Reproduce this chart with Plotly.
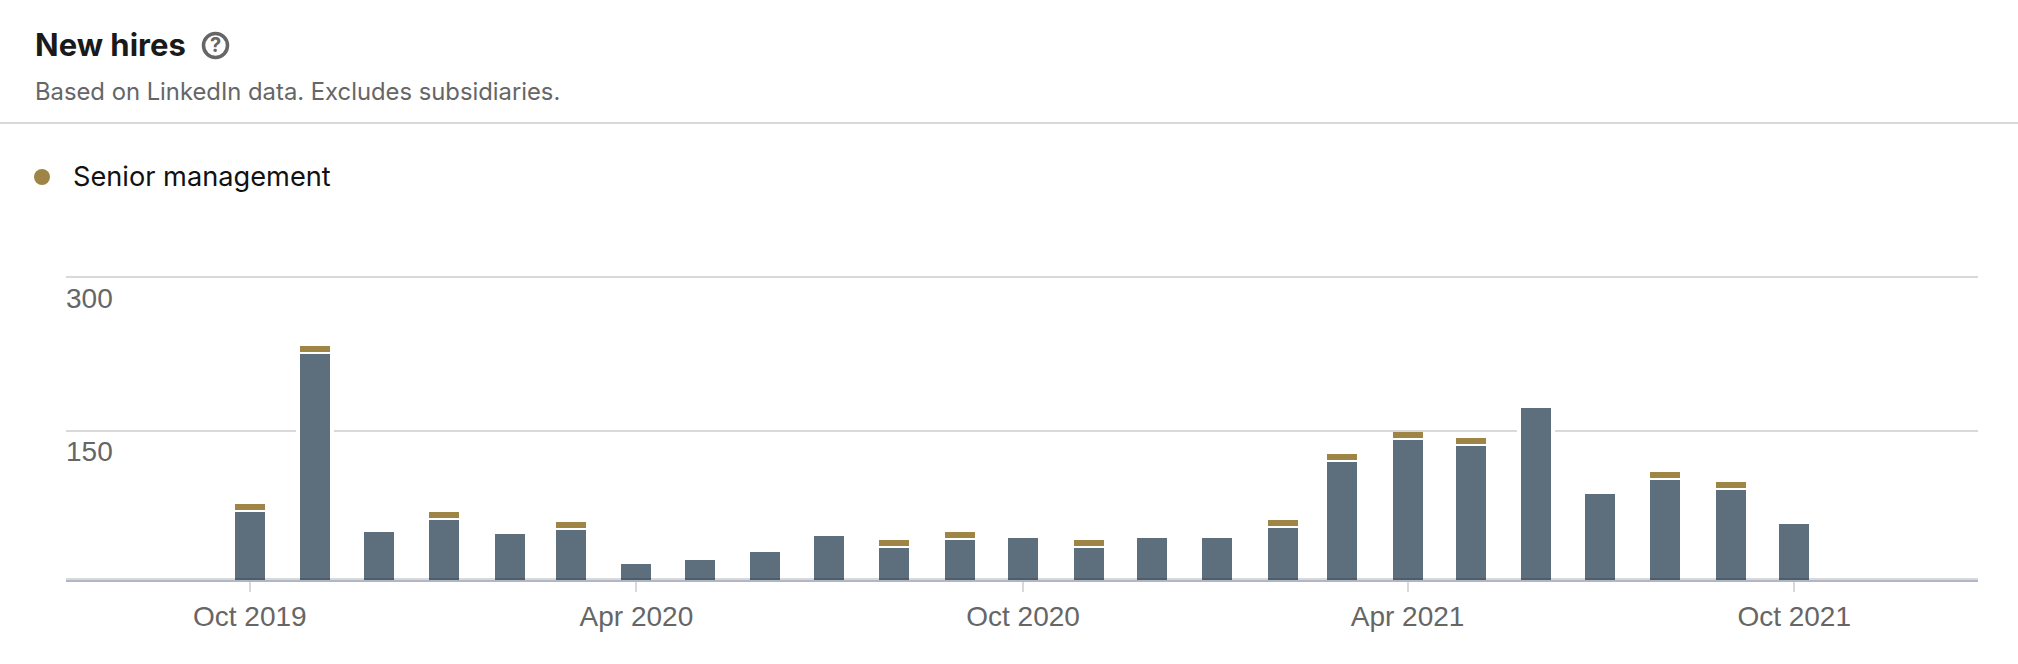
import numpy as np
import plotly.graph_objects as go

months = ["2019-10-01","2019-11-01","2019-12-01","2020-01-01","2020-02-01","2020-03-01","2020-04-01",
          "2020-05-01","2020-06-01","2020-07-01","2020-08-01","2020-09-01","2020-10-01","2020-11-01",
          "2020-12-01","2021-01-01","2021-02-01","2021-03-01","2021-04-01","2021-05-01","2021-06-01",
          "2021-07-01","2021-08-01","2021-09-01","2021-10-01"]
other_hires = [69.3,225.7,49.5,61.4,47.5,51.5,17.8,21.8,29.7,45.5,33.7,41.6,43.6,33.7,43.6,43.6,
               53.5,118.8,140.6,134.7,172.3,87.1,101,91.1,57.4]
senior_management = [6,6,None,6,None,6,None,None,None,None,6,6,None,6,None,None,
                     6,6,6,6,None,None,6,6,None]
# The reference's "150" gridline sits slightly below the linear midpoint of 0 and 300.
y_ticks = [0,148,300]
y_labels = ["","150","300"]

W, H = 2018, 664
L, R, T, B = 66, 1978, 275, 580
GREY = "#666666"
DAY = 86400000

def px(x): return (x-L)/(R-L)
def py(y): return (B-y)/(B-T)

base_offset = 3
other = np.array(other_hires)
fig = go.Figure()
fig.add_bar(x=months, y=other+base_offset, base=-base_offset, name="Other",
            width=16.1*DAY, marker=dict(color="#5d6e7c", line=dict(color="white", width=4)),
            showlegend=False)
fig.add_bar(x=months, y=senior_management, base=other, name="Senior management",
            width=14.2*DAY, marker=dict(color="#9e8545", line=dict(width=0)),
            showlegend=False)

def text(x, y, s, size, color, family="Inter", bold=False):
    fig.add_annotation(xref="paper", yref="paper", x=px(x), y=py(y), text=f"<b>{s}</b>" if bold else s,
                       showarrow=False, xanchor="left", yanchor="middle", borderpad=0,
                       font=dict(size=size, color=color, family=family))

text(34, 44, "New hires", 31, "#1a1a1a", bold=True)
text(34, 92, "Based on LinkedIn data. Excludes subsidiaries.", 23.8, GREY)
text(72, 176, "Senior management", 27.2, "#111111")
fig.add_annotation(xref="paper", yref="paper", x=px(215.5), y=py(45), text="<b>?</b>", showarrow=False,
                   xanchor="center", yanchor="middle", font=dict(size=20, color=GREY, family="Inter"))

fig.add_shape(type="circle", xref="paper", yref="paper", x0=px(203.5), x1=px(227.5), y0=py(57.5), y1=py(33.5),
              line=dict(color=GREY, width=3.5))
fig.add_shape(type="circle", xref="paper", yref="paper", x0=px(34), x1=px(50), y0=py(185), y1=py(169),
              fillcolor="#9e8545", line=dict(width=0))
fig.add_shape(type="line", xref="paper", yref="paper", x0=px(0), x1=px(W), y0=py(123), y1=py(123),
              line=dict(color="#d9d9d9", width=2))
fig.add_shape(type="rect", xref="paper", yref="y", x0=0, x1=1, y0=0, y1=2, layer="above",
              fillcolor="rgba(0,0,0,0.15)", line=dict(width=0))

fig.update_layout(
    width=W, height=H, autosize=False, barmode="overlay", bargap=0,
    margin=dict(l=L, r=W-R, t=T, b=H-B),
    paper_bgcolor="white", plot_bgcolor="white", showlegend=False,
    font=dict(family="Liberation Sans", color=GREY),
    xaxis=dict(type="date", range=["2019-07-06","2021-12-27"], tick0="2019-10-01", dtick="M6",
               tickformat="%b %Y", ticks="outside", ticklen=10, tickwidth=2, tickcolor="#d9d9d9",
               showline=True, linecolor="#aeb6c8", linewidth=2, showgrid=False, zeroline=False,
               tickfont=dict(size=28, color=GREY, family="Liberation Sans")),
    yaxis=dict(range=[0,302], tickmode="array", tickvals=y_ticks, ticktext=y_labels,
               ticks="", showgrid=True, gridcolor="#d9d9d9", gridwidth=2, zeroline=False,
               ticklabelposition="inside", ticklabelshift=21, ticklabelstandoff=-3,
               tickfont=dict(size=28, color=GREY, family="Liberation Sans")),
)
fig.write_html("out.html", config=dict(displayModeBar=False),
               post_script="document.body.style.margin='0';document.documentElement.style.overflow='hidden';")
